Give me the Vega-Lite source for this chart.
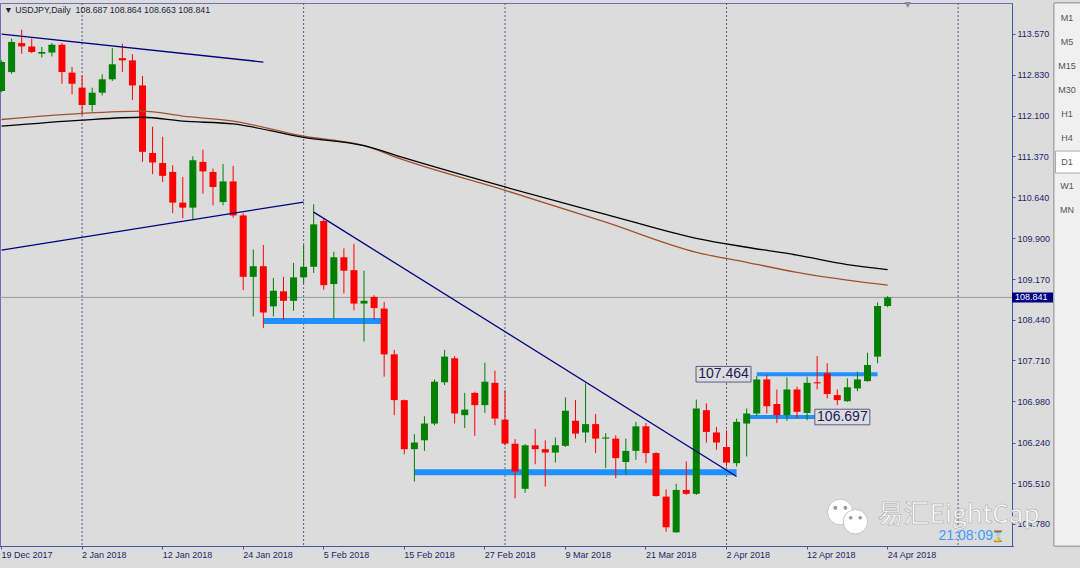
{
  "$schema": "https://vega.github.io/schema/vega-lite/v6.json",
  "width": 1012,
  "height": 543,
  "autosize": {"type": "none"},
  "padding": {"left": 0, "top": 3, "right": 68, "bottom": 22},
  "background": "#dcdcdc",
  "config": {"view": {"fill": "#dcdcdc", "stroke": "#6f6fb4", "strokeWidth": 1}, "font": "Liberation Sans"},
  "title": {"text": "▼ USDJPY,Daily\u00a0 108.687 108.864 108.663 108.841", "anchor": "start", "frame": "group", "offset": -13, "dx": 4, "fontSize": 8.8, "fontWeight": "normal", "font": "Liberation Sans", "color": "#1c1c3c"},
  "datasets": {
    "ohlc": [
      {"d": "19 Dec 2017", "o": 112.54, "h": 113.09, "l": 112.52, "c": 113.06},
      {"d": "20 Dec 2017", "o": 112.88, "h": 113.48, "l": 112.85, "c": 113.42},
      {"d": "21 Dec 2017", "o": 113.40, "h": 113.64, "l": 113.21, "c": 113.34},
      {"d": "22 Dec 2017", "o": 113.34, "h": 113.48, "l": 113.22, "c": 113.24},
      {"d": "26 Dec 2017", "o": 113.21, "h": 113.33, "l": 113.14, "c": 113.24},
      {"d": "27 Dec 2017", "o": 113.23, "h": 113.40, "l": 113.16, "c": 113.37},
      {"d": "28 Dec 2017", "o": 113.37, "h": 113.40, "l": 112.67, "c": 112.88},
      {"d": "29 Dec 2017", "o": 112.87, "h": 112.97, "l": 112.48, "c": 112.67},
      {"d": "2 Jan 2018", "o": 112.60, "h": 112.82, "l": 112.11, "c": 112.29},
      {"d": "3 Jan 2018", "o": 112.29, "h": 112.60, "l": 112.17, "c": 112.51},
      {"d": "4 Jan 2018", "o": 112.51, "h": 112.84, "l": 112.46, "c": 112.75},
      {"d": "5 Jan 2018", "o": 112.75, "h": 113.31, "l": 112.72, "c": 113.02},
      {"d": "8 Jan 2018", "o": 113.13, "h": 113.39, "l": 112.88, "c": 113.09},
      {"d": "9 Jan 2018", "o": 113.09, "h": 113.20, "l": 112.38, "c": 112.64},
      {"d": "10 Jan 2018", "o": 112.64, "h": 112.81, "l": 111.27, "c": 111.45},
      {"d": "11 Jan 2018", "o": 111.43, "h": 111.90, "l": 111.05, "c": 111.26},
      {"d": "12 Jan 2018", "o": 111.25, "h": 111.72, "l": 110.91, "c": 111.02},
      {"d": "15 Jan 2018", "o": 111.09, "h": 111.21, "l": 110.35, "c": 110.54},
      {"d": "16 Jan 2018", "o": 110.54, "h": 111.00, "l": 110.26, "c": 110.45},
      {"d": "17 Jan 2018", "o": 110.45, "h": 111.37, "l": 110.24, "c": 111.30},
      {"d": "18 Jan 2018", "o": 111.27, "h": 111.49, "l": 110.70, "c": 111.10},
      {"d": "19 Jan 2018", "o": 111.09, "h": 111.15, "l": 110.49, "c": 110.82},
      {"d": "22 Jan 2018", "o": 110.55, "h": 111.23, "l": 110.49, "c": 110.92},
      {"d": "23 Jan 2018", "o": 110.92, "h": 111.20, "l": 110.27, "c": 110.31},
      {"d": "24 Jan 2018", "o": 110.31, "h": 110.35, "l": 108.97, "c": 109.21},
      {"d": "25 Jan 2018", "o": 109.21, "h": 109.70, "l": 108.50, "c": 109.40},
      {"d": "26 Jan 2018", "o": 109.40, "h": 109.78, "l": 108.29, "c": 108.57},
      {"d": "29 Jan 2018", "o": 108.68, "h": 109.19, "l": 108.50, "c": 108.96},
      {"d": "30 Jan 2018", "o": 108.95, "h": 109.21, "l": 108.43, "c": 108.78},
      {"d": "31 Jan 2018", "o": 108.78, "h": 109.46, "l": 108.60, "c": 109.20},
      {"d": "1 Feb 2018", "o": 109.20, "h": 109.78, "l": 109.09, "c": 109.39},
      {"d": "2 Feb 2018", "o": 109.39, "h": 110.51, "l": 109.28, "c": 110.15},
      {"d": "5 Feb 2018", "o": 110.21, "h": 110.26, "l": 108.98, "c": 109.06},
      {"d": "6 Feb 2018", "o": 109.08, "h": 109.66, "l": 108.46, "c": 109.56},
      {"d": "7 Feb 2018", "o": 109.56, "h": 109.72, "l": 108.91, "c": 109.32},
      {"d": "8 Feb 2018", "o": 109.33, "h": 109.80, "l": 108.61, "c": 108.73},
      {"d": "9 Feb 2018", "o": 108.73, "h": 109.32, "l": 108.05, "c": 108.78},
      {"d": "12 Feb 2018", "o": 108.85, "h": 108.88, "l": 108.44, "c": 108.65},
      {"d": "13 Feb 2018", "o": 108.64, "h": 108.76, "l": 107.42, "c": 107.82},
      {"d": "14 Feb 2018", "o": 107.82, "h": 107.90, "l": 106.73, "c": 107.00},
      {"d": "15 Feb 2018", "o": 107.00, "h": 107.01, "l": 106.03, "c": 106.12},
      {"d": "16 Feb 2018", "o": 106.12, "h": 106.39, "l": 105.54, "c": 106.24},
      {"d": "19 Feb 2018", "o": 106.28, "h": 106.71, "l": 106.09, "c": 106.58},
      {"d": "20 Feb 2018", "o": 106.58, "h": 107.37, "l": 106.55, "c": 107.33},
      {"d": "21 Feb 2018", "o": 107.32, "h": 107.90, "l": 107.27, "c": 107.78},
      {"d": "22 Feb 2018", "o": 107.75, "h": 107.79, "l": 106.58, "c": 106.76},
      {"d": "23 Feb 2018", "o": 106.73, "h": 107.13, "l": 106.50, "c": 106.83},
      {"d": "26 Feb 2018", "o": 107.13, "h": 107.15, "l": 106.36, "c": 106.91},
      {"d": "27 Feb 2018", "o": 106.91, "h": 107.67, "l": 106.77, "c": 107.33},
      {"d": "28 Feb 2018", "o": 107.31, "h": 107.53, "l": 106.55, "c": 106.67},
      {"d": "1 Mar 2018", "o": 106.65, "h": 107.18, "l": 106.19, "c": 106.22},
      {"d": "2 Mar 2018", "o": 106.22, "h": 106.30, "l": 105.24, "c": 105.72},
      {"d": "5 Mar 2018", "o": 105.41, "h": 106.21, "l": 105.34, "c": 106.19},
      {"d": "6 Mar 2018", "o": 106.19, "h": 106.48, "l": 105.85, "c": 106.12},
      {"d": "7 Mar 2018", "o": 106.12, "h": 106.28, "l": 105.45, "c": 106.06},
      {"d": "8 Mar 2018", "o": 106.06, "h": 106.33, "l": 105.88, "c": 106.19},
      {"d": "9 Mar 2018", "o": 106.18, "h": 107.05, "l": 106.16, "c": 106.81},
      {"d": "12 Mar 2018", "o": 106.63, "h": 107.00, "l": 106.31, "c": 106.40},
      {"d": "13 Mar 2018", "o": 106.42, "h": 107.30, "l": 106.24, "c": 106.57},
      {"d": "14 Mar 2018", "o": 106.57, "h": 106.75, "l": 106.05, "c": 106.31},
      {"d": "15 Mar 2018", "o": 106.31, "h": 106.41, "l": 105.78, "c": 106.33},
      {"d": "16 Mar 2018", "o": 106.31, "h": 106.37, "l": 105.60, "c": 105.96},
      {"d": "19 Mar 2018", "o": 105.89, "h": 106.31, "l": 105.66, "c": 106.09},
      {"d": "20 Mar 2018", "o": 106.09, "h": 106.61, "l": 105.93, "c": 106.53},
      {"d": "21 Mar 2018", "o": 106.53, "h": 106.59, "l": 105.87, "c": 106.05},
      {"d": "22 Mar 2018", "o": 106.05, "h": 106.07, "l": 105.27, "c": 105.28},
      {"d": "23 Mar 2018", "o": 105.27, "h": 105.40, "l": 104.64, "c": 104.72},
      {"d": "26 Mar 2018", "o": 104.63, "h": 105.50, "l": 104.62, "c": 105.39},
      {"d": "27 Mar 2018", "o": 105.39, "h": 105.90, "l": 105.30, "c": 105.32},
      {"d": "28 Mar 2018", "o": 105.32, "h": 107.01, "l": 105.30, "c": 106.85},
      {"d": "29 Mar 2018", "o": 106.82, "h": 106.94, "l": 106.24, "c": 106.43},
      {"d": "30 Mar 2018", "o": 106.42, "h": 106.52, "l": 106.11, "c": 106.24},
      {"d": "2 Apr 2018", "o": 106.16, "h": 106.46, "l": 105.81, "c": 105.88},
      {"d": "3 Apr 2018", "o": 105.87, "h": 106.67, "l": 105.81, "c": 106.61},
      {"d": "4 Apr 2018", "o": 106.58, "h": 106.85, "l": 105.99, "c": 106.76},
      {"d": "5 Apr 2018", "o": 106.76, "h": 107.43, "l": 106.71, "c": 107.37},
      {"d": "6 Apr 2018", "o": 107.37, "h": 107.45, "l": 106.76, "c": 106.89},
      {"d": "9 Apr 2018", "o": 106.93, "h": 107.19, "l": 106.59, "c": 106.73},
      {"d": "10 Apr 2018", "o": 106.73, "h": 107.41, "l": 106.63, "c": 107.19},
      {"d": "11 Apr 2018", "o": 107.19, "h": 107.24, "l": 106.67, "c": 106.79},
      {"d": "12 Apr 2018", "o": 106.77, "h": 107.42, "l": 106.64, "c": 107.31},
      {"d": "13 Apr 2018", "o": 107.32, "h": 107.79, "l": 107.19, "c": 107.30},
      {"d": "16 Apr 2018", "o": 107.48, "h": 107.66, "l": 107.03, "c": 107.11},
      {"d": "17 Apr 2018", "o": 107.09, "h": 107.19, "l": 106.91, "c": 107.00},
      {"d": "18 Apr 2018", "o": 106.98, "h": 107.39, "l": 106.97, "c": 107.23},
      {"d": "19 Apr 2018", "o": 107.21, "h": 107.51, "l": 107.16, "c": 107.37},
      {"d": "20 Apr 2018", "o": 107.34, "h": 107.85, "l": 107.33, "c": 107.63},
      {"d": "23 Apr 2018", "o": 107.78, "h": 108.75, "l": 107.66, "c": 108.687},
      {"d": "24 Apr 2018", "o": 108.687, "h": 108.864, "l": 108.663, "c": 108.841}
    ],
    "maFast": [
      {"d": "19 Dec 2017", "p": 112.03}, {"d": "2 Jan 2018", "p": 112.14}, {"d": "10 Jan 2018", "p": 112.18},
      {"d": "16 Jan 2018", "p": 112.09}, {"d": "23 Jan 2018", "p": 112.00}, {"d": "1 Feb 2018", "p": 111.73},
      {"d": "9 Feb 2018", "p": 111.56}, {"d": "15 Feb 2018", "p": 111.30}, {"d": "1 Mar 2018", "p": 110.76},
      {"d": "15 Mar 2018", "p": 110.19}, {"d": "28 Mar 2018", "p": 109.65}, {"d": "4 Apr 2018", "p": 109.47},
      {"d": "11 Apr 2018", "p": 109.29}, {"d": "18 Apr 2018", "p": 109.15}, {"d": "24 Apr 2018", "p": 109.06}
    ],
    "maSlow": [
      {"d": "19 Dec 2017", "p": 111.91}, {"d": "2 Jan 2018", "p": 112.02}, {"d": "10 Jan 2018", "p": 112.07},
      {"d": "16 Jan 2018", "p": 112.00}, {"d": "23 Jan 2018", "p": 111.95}, {"d": "1 Feb 2018", "p": 111.71},
      {"d": "9 Feb 2018", "p": 111.56}, {"d": "15 Feb 2018", "p": 111.34}, {"d": "1 Mar 2018", "p": 110.82},
      {"d": "15 Mar 2018", "p": 110.33}, {"d": "28 Mar 2018", "p": 109.90}, {"d": "4 Apr 2018", "p": 109.74},
      {"d": "11 Apr 2018", "p": 109.60}, {"d": "18 Apr 2018", "p": 109.43}, {"d": "24 Apr 2018", "p": 109.34}
    ],
    "trend": [
      {"id": "a", "d": "19 Dec 2017", "p": 113.56}, {"id": "a", "d": "26 Jan 2018", "p": 113.06},
      {"id": "b", "d": "19 Dec 2017", "p": 109.69}, {"id": "b", "d": "1 Feb 2018", "p": 110.55},
      {"id": "c", "d": "2 Feb 2018", "p": 110.37}, {"id": "c", "d": "3 Apr 2018", "p": 105.63}
    ]
  },
  "layer": [
    {
      "layer": [
        {
          "data": {"values": [{"d": "2 Jan 2018"}, {"d": "1 Feb 2018"}, {"d": "1 Mar 2018"}, {"d": "2 Apr 2018"}, {"d": "3 May 2018"}]},
          "mark": {"type": "rule", "color": "#5a5a88", "strokeWidth": 1, "strokeDash": [2, 2]},
          "encoding": {"x": {"field": "d", "type": "ordinal"}}
        },
        {
          "data": {"values": [{"d": "16 Feb 2018", "d2": "3 Apr 2018", "p": 105.707}, {"d": "26 Jan 2018", "d2": "13 Feb 2018", "p": 108.42}]},
          "mark": {"type": "rule", "color": "#1e90ff", "strokeWidth": 6},
          "encoding": {"x": {"field": "d", "type": "ordinal"}, "x2": {"field": "d2"}, "y": {"field": "p", "type": "quantitative"}}
        },
        {
          "data": {"values": [{"d": "5 Apr 2018", "d2": "23 Apr 2018", "p": 107.464}, {"d": "4 Apr 2018", "d2": "13 Apr 2018", "p": 106.697}]},
          "mark": {"type": "rule", "color": "#1e90ff", "strokeWidth": 4},
          "encoding": {"x": {"field": "d", "type": "ordinal"}, "x2": {"field": "d2"}, "y": {"field": "p", "type": "quantitative"}}
        },
        {
          "data": {"values": [{}]},
          "mark": {"type": "rule", "color": "#9a9a9a", "strokeWidth": 1},
          "encoding": {"y": {"datum": 108.841}}
        },
        {
          "data": {"name": "ohlc"},
          "mark": {"type": "rule", "strokeWidth": 1, "clip": true},
          "encoding": {
            "x": {"field": "d", "type": "ordinal",
              "scale": {"type": "band", "paddingInner": 0, "paddingOuter": 0, "range": [-3.5, 1013.5],
                "domain": ["19 Dec 2017","20 Dec 2017","21 Dec 2017","22 Dec 2017","26 Dec 2017","27 Dec 2017","28 Dec 2017","29 Dec 2017","2 Jan 2018","3 Jan 2018","4 Jan 2018","5 Jan 2018","8 Jan 2018","9 Jan 2018","10 Jan 2018","11 Jan 2018","12 Jan 2018","15 Jan 2018","16 Jan 2018","17 Jan 2018","18 Jan 2018","19 Jan 2018","22 Jan 2018","23 Jan 2018","24 Jan 2018","25 Jan 2018","26 Jan 2018","29 Jan 2018","30 Jan 2018","31 Jan 2018","1 Feb 2018","2 Feb 2018","5 Feb 2018","6 Feb 2018","7 Feb 2018","8 Feb 2018","9 Feb 2018","12 Feb 2018","13 Feb 2018","14 Feb 2018","15 Feb 2018","16 Feb 2018","19 Feb 2018","20 Feb 2018","21 Feb 2018","22 Feb 2018","23 Feb 2018","26 Feb 2018","27 Feb 2018","28 Feb 2018","1 Mar 2018","2 Mar 2018","5 Mar 2018","6 Mar 2018","7 Mar 2018","8 Mar 2018","9 Mar 2018","12 Mar 2018","13 Mar 2018","14 Mar 2018","15 Mar 2018","16 Mar 2018","19 Mar 2018","20 Mar 2018","21 Mar 2018","22 Mar 2018","23 Mar 2018","26 Mar 2018","27 Mar 2018","28 Mar 2018","29 Mar 2018","30 Mar 2018","2 Apr 2018","3 Apr 2018","4 Apr 2018","5 Apr 2018","6 Apr 2018","9 Apr 2018","10 Apr 2018","11 Apr 2018","12 Apr 2018","13 Apr 2018","16 Apr 2018","17 Apr 2018","18 Apr 2018","19 Apr 2018","20 Apr 2018","23 Apr 2018","24 Apr 2018","25 Apr 2018","26 Apr 2018","27 Apr 2018","30 Apr 2018","1 May 2018","2 May 2018","3 May 2018","4 May 2018","7 May 2018","8 May 2018","9 May 2018","10 May 2018"]},
              "axis": {"values": ["19 Dec 2017","2 Jan 2018","12 Jan 2018","24 Jan 2018","5 Feb 2018","15 Feb 2018","27 Feb 2018","9 Mar 2018","21 Mar 2018","2 Apr 2018","12 Apr 2018","24 Apr 2018"],
                "title": null, "labelAngle": 0, "labelAlign": "left", "labelBaseline": "top", "labelPadding": 1, "tickSize": 3,
                "labelFont": "Liberation Sans", "labelFontSize": 9, "labelColor": "#1f1f6b", "tickColor": "#5050a0", "domainColor": "#5050a0",
                "labelOverlap": false, "labelFlush": false, "labelBound": false, "grid": false}},
            "y": {"field": "l", "type": "quantitative",
              "scale": {"domain": [104.385, 114.118], "zero": false, "nice": false},
              "axis": {"orient": "right", "values": [104.78, 105.51, 106.24, 106.98, 107.71, 108.44, 109.17, 109.9, 110.64, 111.37, 112.1, 112.83, 113.57],
                "format": ".3f", "title": null, "labelAlign": "left", "labelPadding": 2, "tickSize": 3, "labelFont": "Liberation Sans",
                "labelFontSize": 9, "labelColor": "#1f1f6b", "tickColor": "#5050a0", "domainColor": "#5050a0", "grid": false}},
            "y2": {"field": "h"},
            "color": {"condition": {"test": "datum.c >= datum.o", "value": "#008000"}, "value": "#ff0000"}
          }
        },
        {
          "data": {"name": "ohlc"},
          "mark": {"type": "bar", "size": 7, "clip": true},
          "encoding": {
            "x": {"field": "d", "type": "ordinal"},
            "y": {"field": "o", "type": "quantitative"},
            "y2": {"field": "c"},
            "color": {"condition": {"test": "datum.c >= datum.o", "value": "#008000"}, "value": "#ff0000"}
          }
        },
        {
          "data": {"name": "maFast"},
          "mark": {"type": "line", "color": "#a0522d", "strokeWidth": 1.3, "interpolate": "monotone", "clip": true},
          "encoding": {"x": {"field": "d", "type": "ordinal"}, "y": {"field": "p", "type": "quantitative"}, "order": {"value": null}}
        },
        {
          "data": {"name": "maSlow"},
          "mark": {"type": "line", "color": "#000000", "strokeWidth": 1.3, "interpolate": "monotone", "clip": true},
          "encoding": {"x": {"field": "d", "type": "ordinal"}, "y": {"field": "p", "type": "quantitative"}, "order": {"value": null}}
        },
        {
          "data": {"name": "trend"},
          "mark": {"type": "line", "color": "#000080", "strokeWidth": 1.3, "clip": true},
          "encoding": {"x": {"field": "d", "type": "ordinal"}, "y": {"field": "p", "type": "quantitative"}, "detail": {"field": "id"}, "order": {"value": null}}
        },
        {
          "data": {"values": [{}]},
          "mark": {"type": "point", "shape": "triangle-down", "size": 45, "filled": true, "fill": "#8a8aa0", "strokeWidth": 0, "opacity": 1, "yOffset": 2, "clip": false},
          "encoding": {"x": {"datum": "26 Apr 2018", "type": "ordinal"}, "y": {"value": 0}}
        },
        {
          "data": {"values": [{}]},
          "mark": {"type": "point", "shape": "M-1,-0.284H1V0.284H-1Z", "size": 3025, "filled": true, "fill": "#dcdcdc", "stroke": "#5a5a8a", "strokeWidth": 1, "opacity": 1, "xOffset": -3},
          "encoding": {"x": {"datum": "2 Apr 2018", "type": "ordinal"}, "y": {"datum": 107.464}}
        },
        {
          "data": {"values": [{}]},
          "mark": {"type": "text", "text": "107.464", "fontSize": 14, "font": "Liberation Sans", "color": "#1a1a5a", "dx": -3, "align": "center", "baseline": "middle"},
          "encoding": {"x": {"datum": "2 Apr 2018", "type": "ordinal"}, "y": {"datum": 107.464}}
        },
        {
          "data": {"values": [{}]},
          "mark": {"type": "point", "shape": "M-1,-0.284H1V0.284H-1Z", "size": 3025, "filled": true, "fill": "#dcdcdc", "stroke": "#5a5a8a", "strokeWidth": 1, "opacity": 1, "xOffset": -5},
          "encoding": {"x": {"datum": "18 Apr 2018", "type": "ordinal"}, "y": {"datum": 106.697}}
        },
        {
          "data": {"values": [{}]},
          "mark": {"type": "text", "text": "106.697", "fontSize": 14, "font": "Liberation Sans", "color": "#1a1a5a", "dx": -5, "align": "center", "baseline": "middle"},
          "encoding": {"x": {"datum": "18 Apr 2018", "type": "ordinal"}, "y": {"datum": 106.697}}
        },
        {
          "data": {"values": [{}]},
          "mark": {"type": "point", "shape": "circle", "size": 660, "filled": true, "fill": "#ffffff", "stroke": "#c4c4c4", "strokeWidth": 1, "opacity": 1, "xOffset": -7, "clip": false},
          "encoding": {"x": {"datum": "18 Apr 2018", "type": "ordinal"}, "y": {"datum": 104.994}}
        },
        {
          "data": {"values": [{}]},
          "mark": {"type": "point", "shape": "M-0.5,-0.3A0.14,0.14 0 1,0 -0.22,-0.3A0.14,0.14 0 1,0 -0.5,-0.3ZM0.22,-0.3A0.14,0.14 0 1,0 0.5,-0.3A0.14,0.14 0 1,0 0.22,-0.3Z", "size": 784, "filled": true, "fill": "#9a9a9a", "strokeWidth": 0, "opacity": 1, "xOffset": -7, "clip": false},
          "encoding": {"x": {"datum": "18 Apr 2018", "type": "ordinal"}, "y": {"datum": 104.994}}
        },
        {
          "data": {"values": [{}]},
          "mark": {"type": "point", "shape": "circle", "size": 600, "filled": true, "fill": "#ffffff", "stroke": "#c4c4c4", "strokeWidth": 1, "opacity": 1, "xOffset": -2, "clip": false},
          "encoding": {"x": {"datum": "19 Apr 2018", "type": "ordinal"}, "y": {"datum": 104.82}}
        },
        {
          "data": {"values": [{}]},
          "mark": {"type": "point", "shape": "M-0.5,-0.3A0.14,0.14 0 1,0 -0.22,-0.3A0.14,0.14 0 1,0 -0.5,-0.3ZM0.22,-0.3A0.14,0.14 0 1,0 0.5,-0.3A0.14,0.14 0 1,0 0.22,-0.3Z", "size": 700, "filled": true, "fill": "#9a9a9a", "strokeWidth": 0, "opacity": 1, "xOffset": -2, "clip": false},
          "encoding": {"x": {"datum": "19 Apr 2018", "type": "ordinal"}, "y": {"datum": 104.82}}
        },
        {
          "data": {"values": [{}]},
          "mark": {"type": "text", "text": "易汇EightCap", "font": "Noto Sans CJK SC", "fontSize": 26, "fill": "#ffffff", "stroke": "#a0a0a0", "strokeWidth": 0.5, "align": "left", "baseline": "alphabetic", "clip": false},
          "encoding": {"x": {"datum": "23 Apr 2018", "type": "ordinal"}, "y": {"datum": 104.80}}
        },
        {
          "data": {"values": [{}]},
          "mark": {"type": "text", "text": "21:08:09", "font": "Liberation Sans", "fontSize": 14, "fill": "#3d9bff", "align": "right", "baseline": "alphabetic", "dx": -19, "dy": -6, "clip": false},
          "encoding": {"x": {"value": "width"}, "y": {"value": "height"}}
        },
        {
          "data": {"values": [{}]},
          "mark": {"type": "text", "text": "⌛", "font": "DejaVu Sans", "fontSize": 11, "fill": "#3d9bff", "align": "right", "baseline": "alphabetic", "dx": -7, "dy": -6, "clip": false},
          "encoding": {"x": {"value": "width"}, "y": {"value": "height"}}
        },
        {
          "data": {"values": [{}]},
          "mark": {"type": "point", "shape": "M-1,-0.244H1V0.244H-1Z", "size": 1681, "filled": true, "fill": "#000080", "strokeWidth": 0, "opacity": 1, "xOffset": 20.5, "clip": false},
          "encoding": {"x": {"value": "width"}, "y": {"datum": 108.841}}
        },
        {
          "data": {"values": [{}]},
          "mark": {"type": "text", "text": "108.841", "font": "Liberation Sans", "fontSize": 9, "fill": "#ffffff", "align": "left", "baseline": "middle", "dx": 3, "clip": false},
          "encoding": {"x": {"value": "width"}, "y": {"datum": 108.841}}
        }
      ]
    },
    {
      "data": {"values": [{"tf": "M1"}, {"tf": "M5"}, {"tf": "M15"}, {"tf": "M30"}, {"tf": "H1"}, {"tf": "H4"}, {"tf": "D1"}, {"tf": "W1"}, {"tf": "MN"}]},
      "layer": [
        {
          "mark": {"type": "rect", "fill": "#f0f0f0", "stroke": "#a8a8a8", "strokeWidth": 1, "clip": false, "xOffset": 42, "x2Offset": 72},
          "encoding": {"x": {"value": "width"}, "x2": {"value": "width"}, "y": {"value": 0}, "y2": {"value": "height"}}
        },
        {
          "transform": [{"filter": "datum.tf == 'D1'"}],
          "mark": {"type": "point", "shape": "M-1,-0.88H1V0.88H-1Z", "size": 625, "filled": true, "fill": "#ffffff", "stroke": "#a8a8a8", "strokeWidth": 1, "opacity": 1, "xOffset": 56, "clip": false},
          "encoding": {"x": {"value": "width"}, "y": {"field": "tf", "type": "nominal", "scale": {"type": "point", "padding": 0, "range": [15.3, 207], "domain": ["M1", "M5", "M15", "M30", "H1", "H4", "D1", "W1", "MN"]}, "axis": null}}
        },
        {
          "mark": {"type": "text", "font": "Liberation Sans", "fontSize": 9, "fill": "#555555", "align": "center", "baseline": "middle", "dx": 55, "clip": false},
          "encoding": {"x": {"value": "width"}, "y": {"field": "tf", "type": "nominal", "scale": {"type": "point", "padding": 0, "range": [15.3, 207], "domain": ["M1", "M5", "M15", "M30", "H1", "H4", "D1", "W1", "MN"]}, "axis": null}, "text": {"field": "tf"}}
        }
      ]
    }
  ],
  "resolve": {"scale": {"y": "independent"}}
}
